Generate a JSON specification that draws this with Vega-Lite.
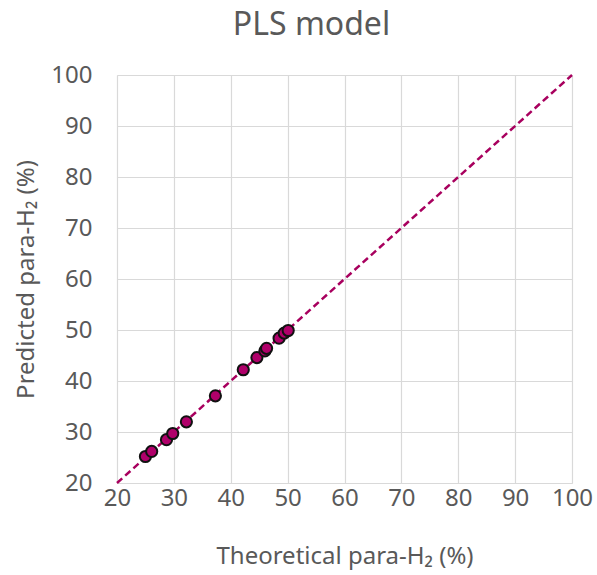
{
  "$schema": "https://vega.github.io/schema/vega-lite/v6.json",
  "autosize": {"type": "none"},
  "padding": {"left": 117, "top": 75, "right": 25, "bottom": 92},
  "width": 455,
  "height": 408,
  "title": {"text": "PLS model", "fontSize": 32, "font": "Noto Sans", "fontWeight": "normal", "color": "#595959", "dx": -33, "offset": 21},
  "config": {
    "view": {"stroke": null},
    "axis": {
      "labelFont": "Noto Sans", "titleFont": "Noto Sans",
      "labelFontSize": 24, "titleFontSize": 24,
      "labelColor": "#595959", "titleColor": "#595959",
      "titleFontWeight": "normal",
      "gridColor": "#d9d9d9", "gridWidth": 1.2, "domainColor": "#d9d9d9",
      "ticks": false, "labelFlush": false
    }
  },
  "layer": [
    {
      "data": {"values": [{"x": 20, "y": 20}, {"x": 100, "y": 100}]},
      "mark": {"type": "line", "color": "#A8005E", "strokeWidth": 2.5, "strokeDash": [7, 4]},
      "encoding": {
        "x": {"field": "x", "type": "quantitative", "scale": {"domain": [20, 100], "nice": false},
          "axis": {"title": "Theoretical para-H₂ (%)", "values": [20,30,40,50,60,70,80,90,100], "labelPadding": 3, "titlePadding": 34}},
        "y": {"field": "y", "type": "quantitative", "scale": {"domain": [20, 100], "nice": false},
          "axis": {"title": "Predicted para-H₂ (%)", "values": [20,30,40,50,60,70,80,90,100], "labelPadding": 25, "titlePadding": 12}}
      }
    },
    {
      "data": {"values": [
        {"theoretical": 25.0, "predicted": 25.2},
        {"theoretical": 26.1, "predicted": 26.2},
        {"theoretical": 28.7, "predicted": 28.5},
        {"theoretical": 29.8, "predicted": 29.7},
        {"theoretical": 32.2, "predicted": 32.0},
        {"theoretical": 37.3, "predicted": 37.1},
        {"theoretical": 42.2, "predicted": 42.2},
        {"theoretical": 44.6, "predicted": 44.6},
        {"theoretical": 46.0, "predicted": 45.9},
        {"theoretical": 46.3, "predicted": 46.4},
        {"theoretical": 48.5, "predicted": 48.4},
        {"theoretical": 49.4, "predicted": 49.4},
        {"theoretical": 50.1, "predicted": 49.9}
      ]},
      "mark": {"type": "circle", "size": 125, "color": "#B0006A", "opacity": 1, "stroke": "#111111", "strokeWidth": 2},
      "encoding": {
        "x": {"field": "theoretical", "type": "quantitative"},
        "y": {"field": "predicted", "type": "quantitative"}
      }
    }
  ]
}
